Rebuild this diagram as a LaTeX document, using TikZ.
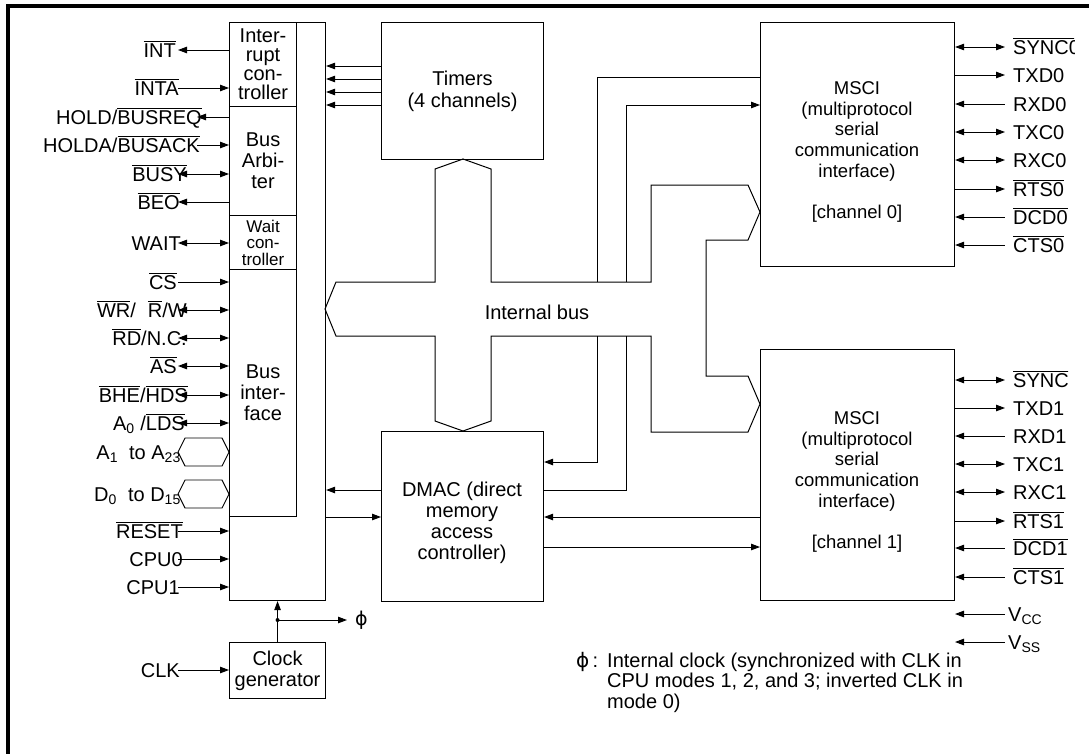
\documentclass[tikz,border=0pt]{standalone}
\usepackage{fontspec}
\setmainfont{Liberation Sans}
\newfontfamily\dejavu{DejaVu Sans}
\usetikzlibrary{arrows.meta}
\newcommand\ovl[1]{\vbox{\hrule height .9pt\kern 1.6pt\hbox{#1}}}
\begin{document}
\begin{tikzpicture}[x=1pt,y=-1pt,
  >={Triangle[length=9pt,width=6.5pt]},
  wire/.style={line width=0.9pt},
  box/.style={draw,line width=1.1pt,inner sep=0pt,anchor=north west,align=center,font=\fontsize{20}{21}\selectfont},
  lbl/.style={inner sep=0pt,align=center,font=\fontsize{20}{21}\selectfont},
  pinL/.style={inner sep=0pt,anchor=base east,font=\fontsize{20}{20}\selectfont},
  pinR/.style={inner sep=0pt,anchor=base west,font=\fontsize{20}{20}\selectfont}]
\useasboundingbox (0,0) rectangle (1089,753);
% frame
\draw[line width=4pt] (8,800) -- (8,6) -- (1200,6);

% CPU side blocks
\node[box,minimum width=96pt,minimum height=578pt] (cpu) at (229,22) {};
\node[box,minimum width=67pt,minimum height=84pt,font=\fontsize{20}{19}\selectfont] (intc) at (229,22) {Inter-\\rupt\\con-\\troller};
\node[box,minimum width=67pt,minimum height=109pt] (arb) at (229,106) {Bus\\Arbi-\\ter};
\node[box,minimum width=67pt,minimum height=54pt,font=\fontsize{17}{16.5}\selectfont] (waitc) at (229,215) {Wait\\con-\\troller};
\node[box,minimum width=67pt,minimum height=247pt] (busif) at (229,269) {Bus\\inter-\\face};
\node[box,minimum width=96pt,minimum height=56pt] (clk) at (229,642) {Clock\\generator};

% central blocks
\node[box,minimum width=162pt,minimum height=137pt,font=\fontsize{20}{22}\selectfont] (timers) at (381,22) {Timers\\(4 channels)};
\node[box,minimum width=162pt,minimum height=170pt] (dmac) at (381,431) {};
\node[lbl] (dmacT) at (462,523) {DMAC (direct\\memory\\access\\controller)};

% MSCI blocks
\node[box,minimum width=194pt,minimum height=244pt] (msci0) at (760,22) {};
\node[lbl,font=\fontsize{18.5}{20.6}\selectfont] (msciT0) at (857,152) {MSCI\\(multiprotocol\\serial\\communication\\interface)\\[20.6pt]{}[channel 0]};
\node[box,minimum width=194pt,minimum height=251pt] (msci1) at (760,349) {};
\node[lbl,font=\fontsize{18.5}{20.6}\selectfont] (msciT1) at (857,482) {MSCI\\(multiprotocol\\serial\\communication\\interface)\\[20.6pt]{}[channel 1]};

% internal bus
\draw[line width=1pt] (325,309) -- (336,282) -- (435,282) -- (435,169) -- (463,159) -- (491,169)
  -- (491,282) -- (651,282) -- (651,185) -- (748,185) -- (760,212) -- (748,240) -- (706,240)
  -- (706,376) -- (748,376) -- (760,404) -- (748,432) -- (651,432) -- (651,336) -- (491,336)
  -- (491,421) -- (463,431) -- (435,421) -- (435,336) -- (336,336) -- cycle;
\node[lbl] (ibus) at (537,312) {Internal bus};

% timers -> cpu
\foreach \y in {66,79,92,105} \draw[wire,->] (timers.west |- 0,\y) -- (cpu.east |- 0,\y);

% dmac <-> cpu
\draw[wire,<-] (cpu.east |- 0,490) -- (dmac.west |- 0,490);
\draw[wire,->] (cpu.east |- 0,517) -- (dmac.west |- 0,517);
% dmac <-> msci1
\draw[wire,<-] (dmac.east |- 0,517) -- (msci1.west |- 0,517);
\draw[wire,->] (dmac.east |- 0,547) -- (msci1.west |- 0,547);
% dmac <-> msci0 crossing the bus
\coordinate (a1) at (597,282); \coordinate (a2) at (597,336);
\coordinate (b1) at (626,282); \coordinate (b2) at (626,336);
\draw[wire] (msci0.west |- 0,77) -| (a1);
\draw[wire,->] (a2) |- (dmac.east |- 0,462);
\draw[wire] (dmac.east |- 0,490) -| (b2);
\draw[wire,->] (b1) |- (msci0.west |- 0,105);

% left pins
\newcommand\lpin[5]{%
  \node[pinL] (L#1) at (#2,#1+7) {#5};
  \coordinate (Lp#1) at (#3,#1);
  \draw[wire,#4] (Lp#1) -- (Lp#1 -| cpu.west);}
\lpin{50}{176}{178}{<-}{\ovl{INT}}
\lpin{88}{179}{178}{->}{\ovl{INTA}}
\lpin{117}{202}{197}{<-}{HOLD/\ovl{BUSREQ}}
\lpin{145}{200}{197}{->}{HOLDA/\ovl{BUSACK}}
\lpin{174}{187}{178}{<->}{\ovl{BUSY}}
\lpin{202}{180}{178}{<-}{\ovl{BEO}}
\lpin{243}{181}{178}{<->}{WAIT}
\lpin{282}{177}{178}{->}{\ovl{CS}}
\lpin{310}{187}{178}{<->}{\ovl{WR}/\hspace{12pt}\ovl{R}/W}
\lpin{338}{187}{178}{<->}{\ovl{RD}/N.C.}
\lpin{366}{177}{178}{<->}{\ovl{AS}}
\lpin{395}{188}{178}{<->}{\ovl{BHE}/\ovl{HDS}}
\lpin{423}{185}{178}{<->}{A\textsubscript{0} /\ovl{LDS}}
\lpin{531}{183}{178}{->}{\ovl{RESET}}
\lpin{559}{183}{178}{->}{CPU0}
\lpin{587}{180}{178}{->}{CPU1}
% address / data buses
\node[pinL] (Labus) at (181,459) {A\textsubscript{1}\ \ to A\textsubscript{23}};
\draw[wire] (178,452) -- (185,438) -- (222,438) -- (229,452) -- (222,466) -- (185,466) -- cycle;
\node[pinL] (Ldbus) at (181,501) {D\textsubscript{0}\ \ to D\textsubscript{15}};
\draw[wire] (178,494) -- (185,480) -- (222,480) -- (229,494) -- (222,508) -- (185,508) -- cycle;

% clock
\node[pinL] (Lclk) at (180,677) {CLK};
\coordinate (clkin) at (178,670);
\draw[wire,->] (clkin) -- (clkin -| clk.west);
\draw[wire,->] (clk.north) -- (cpu.south);
\coordinate (junc) at (clk.north |- 0,620);
\fill (junc) circle (2pt);
\coordinate (phiE) at (347,620);
\draw[wire,->] (junc) -- (phiE);
\node[inner sep=0pt,anchor=west,font=\dejavu\fontsize{19}{19}\selectfont] (phiL) at (355,620) {ϕ};

% right pins
\newcommand\rpin[4]{%
  \coordinate (Rp#1) at (1005,#1);
  \draw[wire,#3] (Rp#1 -| #2.east) -- (Rp#1);
  \node[pinR] (R#1) at (1013,#1+7) {#4};}
\begin{scope}
\clip (0,0) rectangle (1074,300);
\rpin{47}{msci0}{<->}{\ovl{SYNC0}}
\end{scope}
\begin{scope}
\clip (0,300) rectangle (1068,753);
\rpin{380}{msci1}{<->}{\ovl{SYNC1}}
\end{scope}
\rpin{75}{msci0}{->}{TXD0}
\rpin{104}{msci0}{<-}{RXD0}
\rpin{132}{msci0}{<->}{TXC0}
\rpin{160}{msci0}{<->}{RXC0}
\rpin{189}{msci0}{->}{\ovl{RTS0}}
\rpin{217}{msci0}{<-}{\ovl{DCD0}}
\rpin{245}{msci0}{<-}{\ovl{CTS0}}
\rpin{408}{msci1}{->}{TXD1}
\rpin{436}{msci1}{<-}{RXD1}
\rpin{464}{msci1}{<->}{TXC1}
\rpin{492}{msci1}{<->}{RXC1}
\rpin{521}{msci1}{->}{\ovl{RTS1}}
\rpin{548}{msci1}{<-}{\ovl{DCD1}}
\rpin{577}{msci1}{<-}{\ovl{CTS1}}
% power
\coordinate (vccE) at (1005,614); \coordinate (vccW) at (955,614);
\draw[wire,<-] (vccW) -- (vccE);
\node[pinR] (Rvcc) at (1008,621) {V\textsubscript{CC}};
\coordinate (vssE) at (1005,642); \coordinate (vssW) at (955,642);
\draw[wire,<-] (vssW) -- (vssE);
\node[pinR] (Rvss) at (1008,649) {V\textsubscript{SS}};

% footnote
\node[inner sep=0pt,anchor=base west,font=\fontsize{20}{20.5}\selectfont] (fnphi) at (576,667) {{\dejavu ϕ}\,:};
\node[inner sep=0pt,anchor=north west,align=left,font=\fontsize{20}{20.5}\selectfont] (fn) at (607,652.5) {Internal clock (synchronized with CLK in\\CPU modes 1, 2, and 3; inverted CLK in\\mode 0)};
\end{tikzpicture}
\end{document}
